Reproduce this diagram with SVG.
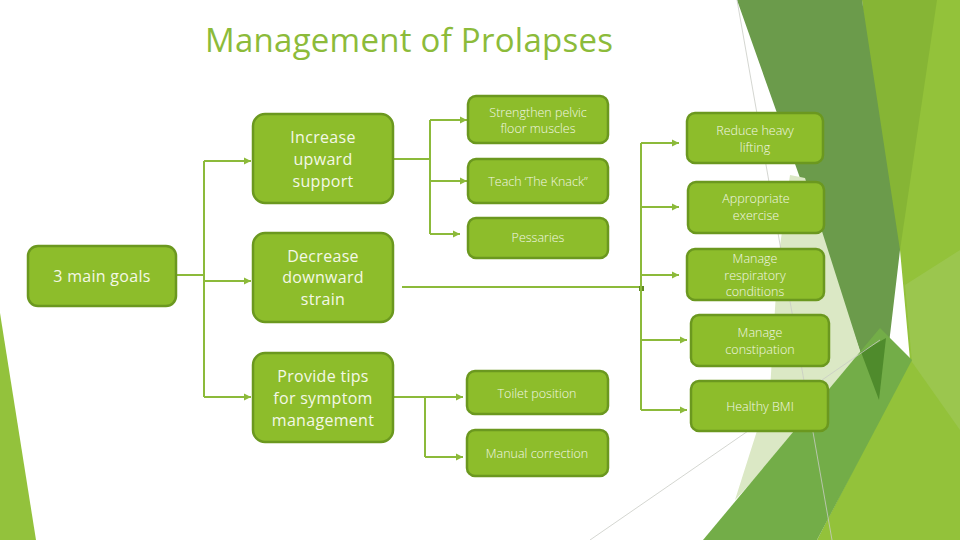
<svg xmlns="http://www.w3.org/2000/svg" width="960" height="540" viewBox="0 0 960 540">
<defs>
<style>
.node rect{fill:#8dbd2b;stroke:#6b981f;stroke-width:2.5}
.big{font-family:"Open Sans","Liberation Sans",sans-serif;font-size:16px;font-weight:500;fill:#f4f8e6;text-anchor:middle;letter-spacing:0.3px}
.sm{font-family:"Open Sans","Liberation Sans",sans-serif;font-size:12.5px;font-weight:300;fill:#f2f7e4;text-anchor:middle}
.conn path{fill:none;stroke:#8cba3a;stroke-width:2}
.thin{stroke:#c9cbc5;stroke-width:0.8;fill:none}
</style>
<marker id="ah" markerUnits="userSpaceOnUse" markerWidth="8" markerHeight="8" refX="7" refY="4" orient="auto">
<path d="M0,0.5 L7,4 L0,7.5 z" fill="#8cba3a"/>
</marker>
</defs>
<rect width="960" height="540" fill="#ffffff"/>
<g id="background">
<polygon points="0,313 36,540 0,540" fill="#93c23c"/>
<polygon points="880,0 960,0 960,540 817,540 910,360 900,250" fill="#93c23a"/>
<polygon points="862,0 937,0 900,250 885,250" fill="#86b535"/>
<polygon points="905,285 960,250 960,430 912,362" fill="#9bc64e"/>
<polygon points="737,0 862,0 900,250 880,420 863,360 800,178" fill="#6b9b4b"/>
<polygon points="790,175 805,178 863,360 880,335 800,430 735,500 770,390 778,260" fill="#dbe8c5"/>
<polygon points="703,540 880,328 912,360 817,540" fill="#73ad48"/>
<polygon points="861,352 886,338 879,400" fill="#4f8b2c"/>
<line class="thin" x1="737" y1="0" x2="832" y2="540"/>
<line class="thin" x1="590" y1="540" x2="880" y2="340"/>
</g>
<text x="409" y="52" font-family="Open Sans, Liberation Sans, sans-serif" font-size="33" font-weight="500" fill="#8cbb3a" text-anchor="middle" textLength="408">Management of Prolapses</text>
<g class="conn" id="connectors">
<path d="M176,275 H204 M204,161 V397"/>
<path d="M204,161 H251" marker-end="url(#ah)"/>
<path d="M204,281 H251" marker-end="url(#ah)"/>
<path d="M204,397 H251" marker-end="url(#ah)"/>
<path d="M393,159 H430 M430,120 V234"/>
<path d="M430,120 H467" marker-end="url(#ah)"/>
<path d="M430,181 H467" marker-end="url(#ah)"/>
<path d="M430,234 H460" marker-end="url(#ah)"/>
<path d="M402,287 H643"/>
<rect x="639" y="286" width="5" height="5" fill="#5e8a22"/>
<path d="M641,143 V410"/>
<path d="M641,143 H679" marker-end="url(#ah)"/>
<path d="M641,207 H679" marker-end="url(#ah)"/>
<path d="M641,275 H679" marker-end="url(#ah)"/>
<path d="M641,340 H687" marker-end="url(#ah)"/>
<path d="M641,410 H687" marker-end="url(#ah)"/>
<path d="M393,397 H425 V457"/>
<path d="M425,397 H463" marker-end="url(#ah)"/>
<path d="M425,457 H463" marker-end="url(#ah)"/>
</g>
<g id="n-goals" class="node"><rect x="28" y="246" width="148" height="60" rx="10"/><text class="big" x="102" y="282">3 main goals</text></g>
<g id="n-increase" class="node"><rect x="253" y="114" width="140" height="89" rx="12"/><text class="big" x="323" y="143">Increase</text><text class="big" x="323" y="165">upward</text><text class="big" x="323" y="187">support</text></g>
<g id="n-decrease" class="node"><rect x="253" y="233" width="140" height="89" rx="12"/><text class="big" x="323" y="262">Decrease</text><text class="big" x="323" y="283">downward</text><text class="big" x="323" y="305">strain</text></g>
<g id="n-tips" class="node"><rect x="253" y="353" width="140" height="89" rx="12"/><text class="big" x="323" y="382">Provide tips</text><text class="big" x="323" y="404">for symptom</text><text class="big" x="323" y="426">management</text></g>
<g id="n-strengthen" class="node"><rect x="468" y="96" width="140" height="47" rx="8"/><text class="sm" x="538" y="117">Strengthen pelvic</text><text class="sm" x="538" y="133">floor muscles</text></g>
<g id="n-knack" class="node"><rect x="468" y="159" width="140" height="44" rx="8"/><text class="sm" x="538" y="186">Teach ‘The Knack”</text></g>
<g id="n-pessaries" class="node"><rect x="468" y="218" width="140" height="40" rx="8"/><text class="sm" x="538" y="242">Pessaries</text></g>
<g id="n-toilet" class="node"><rect x="467" y="371" width="141" height="43" rx="8"/><text class="sm" x="537" y="398">Toilet position</text></g>
<g id="n-manual" class="node"><rect x="467" y="430" width="141" height="46" rx="8"/><text class="sm" x="537" y="458">Manual correction</text></g>
<g id="n-lifting" class="node"><rect x="687" y="113" width="136" height="50" rx="8"/><text class="sm" x="755" y="135">Reduce heavy</text><text class="sm" x="755" y="152">lifting</text></g>
<g id="n-exercise" class="node"><rect x="688" y="182" width="136" height="51" rx="8"/><text class="sm" x="756" y="203">Appropriate</text><text class="sm" x="756" y="220">exercise</text></g>
<g id="n-respiratory" class="node"><rect x="687" y="249" width="137" height="51" rx="8"/><text class="sm" x="755" y="263">Manage</text><text class="sm" x="755" y="280">respiratory</text><text class="sm" x="755" y="296">conditions</text></g>
<g id="n-constipation" class="node"><rect x="691" y="315" width="138" height="51" rx="8"/><text class="sm" x="760" y="337">Manage</text><text class="sm" x="760" y="354">constipation</text></g>
<g id="n-bmi" class="node"><rect x="691" y="381" width="137" height="50" rx="8"/><text class="sm" x="760" y="411">Healthy BMI</text></g>
</svg>
